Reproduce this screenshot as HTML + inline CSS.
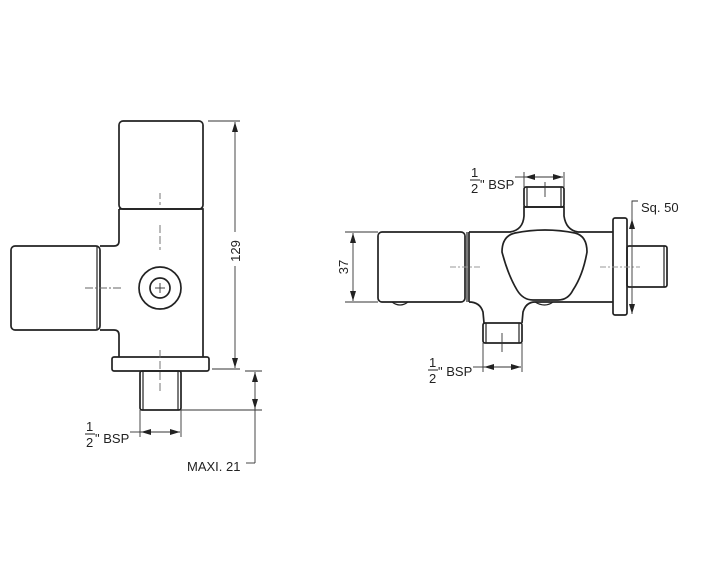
<!DOCTYPE html>
<html><head><style>
html,body{margin:0;padding:0;background:#fff;width:711px;height:588px;overflow:hidden}
svg{display:block}
text{font-family:"Liberation Sans","DejaVu Sans",sans-serif;fill:#222}
</style></head><body>
<svg width="711" height="588" viewBox="0 0 711 588" xmlns="http://www.w3.org/2000/svg">
<defs>
<marker id="a" viewBox="0 0 10 10" refX="10" refY="5" markerWidth="10" markerHeight="10" markerUnits="userSpaceOnUse" orient="auto-start-reverse"><path d="M0,2 L10,5 L0,8 z" fill="#222"/></marker>
</defs>
<g fill="none" stroke="#222" stroke-width="1.7">
<!-- LEFT VIEW -->
<rect x="119" y="121" width="84" height="88" rx="4"/>
<path d="M119,209 H203 V357 M119,209 V241 Q119,246 114,246 H100 M100,330 H114 Q119,330 119,335 V357"/>
<rect x="11" y="246" width="89" height="84" rx="4"/>
<line x1="97" y1="246" x2="97" y2="330" stroke-width="1.2"/>
<circle cx="160" cy="288" r="21"/>
<circle cx="160" cy="288" r="10"/>
<rect x="112" y="357" width="97" height="14" rx="2"/>
<rect x="140" y="371" width="41" height="39" rx="2"/>
<line x1="143" y1="371" x2="143" y2="410" stroke-width="1.2"/>
<line x1="178" y1="371" x2="178" y2="410" stroke-width="1.2"/>
</g>
<g stroke="#333" stroke-width="0.9" fill="none">
<line x1="160" y1="193" x2="160" y2="205" stroke-dasharray="6,3" stroke="#666"/>
<line x1="160" y1="225" x2="160" y2="250" stroke-dasharray="8,3" stroke="#666"/>
<line x1="85" y1="288" x2="122" y2="288" stroke-dasharray="8,2,2,2" stroke="#666"/>
<line x1="155" y1="288" x2="165" y2="288"/><line x1="160" y1="283" x2="160" y2="293"/>
<line x1="160" y1="350" x2="160" y2="392" stroke-dasharray="8,3" stroke="#666"/>
<!-- dims -->
<line x1="208" y1="121" x2="240" y2="121"/>
<line x1="235" y1="122" x2="235" y2="232" marker-start="url(#a)"/>
<line x1="235" y1="266" x2="235" y2="368" marker-end="url(#a)"/>
<line x1="212" y1="369" x2="240" y2="369"/>
<line x1="245" y1="371" x2="262" y2="371"/>
<line x1="181" y1="410" x2="262" y2="410"/>
<line x1="255" y1="372" x2="255" y2="463"/>
<line x1="255" y1="382" x2="255" y2="372" marker-end="url(#a)"/>
<line x1="255" y1="398" x2="255" y2="409" marker-end="url(#a)"/>
<line x1="246" y1="463" x2="255" y2="463"/>
<line x1="140" y1="410" x2="140" y2="437"/>
<line x1="181" y1="410" x2="181" y2="437"/>
<line x1="141" y1="432" x2="180" y2="432" marker-start="url(#a)" marker-end="url(#a)"/>
<line x1="130" y1="432" x2="141" y2="432"/>
</g>
<text x="240" y="251" font-size="13" transform="rotate(-90 240 251)" text-anchor="middle">129</text>
<text x="187" y="471" font-size="13">MAXI. 21</text>
<text x="86" y="431" font-size="13">1</text><line x1="85" y1="434" x2="95" y2="434" stroke="#222" stroke-width="1"/>
<text x="86" y="447" font-size="13">2</text>
<text x="95" y="443" font-size="13">" BSP</text>

<!-- RIGHT VIEW -->
<g fill="none" stroke="#222" stroke-width="1.7">
<rect x="378" y="232" width="87" height="70" rx="4"/>
<line x1="467" y1="232" x2="467" y2="302" stroke-width="1.2"/>
<path d="M469,232 H510 Q523,230 524,216 V207 H564 V216 Q566,230 578,232 H613 M613,302 H535"/>
<path d="M469,302 Q480,302 483,312 L484,323 M522,323 L523,312 Q526,302 535,302"/>
<path d="M515,233 Q502,236 502,252 Q508,275 517,290 Q523,300 533,300 H558 Q568,300 573,290 Q583,275 587,252 Q587,236 575,233 Q545,227 515,233 Z"/>
<line x1="469" y1="232" x2="469" y2="302"/>
<rect x="524" y="187" width="40" height="20" rx="2"/>
<line x1="527" y1="187" x2="527" y2="207" stroke-width="1.2"/><line x1="561" y1="187" x2="561" y2="207" stroke-width="1.2"/>
<rect x="483" y="323" width="39" height="20" rx="2"/>
<line x1="486" y1="323" x2="486" y2="343" stroke-width="1.2"/><line x1="519" y1="323" x2="519" y2="343" stroke-width="1.2"/>
<rect x="613" y="218" width="14" height="97" rx="2"/>
<rect x="627" y="246" width="40" height="41" rx="2"/>
<line x1="664" y1="246" x2="664" y2="287" stroke-width="1.2"/>
<path d="M392,302 Q400,308 408,302 M535,302 Q545,308 553,302" stroke-width="1.2"/>
</g>
<g stroke="#333" stroke-width="0.9" fill="none">
<line x1="450" y1="267" x2="480" y2="267" stroke-dasharray="6,2,2,2" stroke="#999"/>
<line x1="600" y1="267" x2="640" y2="267" stroke-dasharray="6,2,2,2" stroke="#999"/>
<line x1="545" y1="182" x2="545" y2="197"/>
<line x1="502" y1="333" x2="502" y2="352"/>
<line x1="345" y1="232" x2="378" y2="232"/>
<line x1="345" y1="302" x2="378" y2="302"/>
<line x1="353" y1="233" x2="353" y2="301" marker-start="url(#a)" marker-end="url(#a)"/>
<line x1="632" y1="219" x2="632" y2="314" marker-start="url(#a)" marker-end="url(#a)"/>
<path d="M632,219 V201 H638"/>
<line x1="524" y1="172" x2="524" y2="187"/><line x1="564" y1="172" x2="564" y2="187"/>
<line x1="525" y1="177" x2="563" y2="177" marker-start="url(#a)" marker-end="url(#a)"/>
<line x1="515" y1="177" x2="525" y2="177"/>
<line x1="483" y1="343" x2="483" y2="372"/><line x1="522" y1="343" x2="522" y2="372"/>
<line x1="484" y1="367" x2="521" y2="367" marker-start="url(#a)" marker-end="url(#a)"/>
<line x1="473" y1="367" x2="484" y2="367"/>
</g>
<text x="348" y="267" font-size="13" transform="rotate(-90 348 267)" text-anchor="middle">37</text>
<text x="641" y="212" font-size="13">Sq. 50</text>
<text x="471" y="177" font-size="13">1</text><line x1="470" y1="180" x2="480" y2="180" stroke="#222" stroke-width="1"/>
<text x="471" y="193" font-size="13">2</text>
<text x="480" y="189" font-size="13">" BSP</text>
<text x="429" y="367" font-size="13">1</text><line x1="428" y1="370" x2="438" y2="370" stroke="#222" stroke-width="1"/>
<text x="429" y="383" font-size="13">2</text>
<text x="438" y="376" font-size="13">" BSP</text>
</svg>
</body></html>
